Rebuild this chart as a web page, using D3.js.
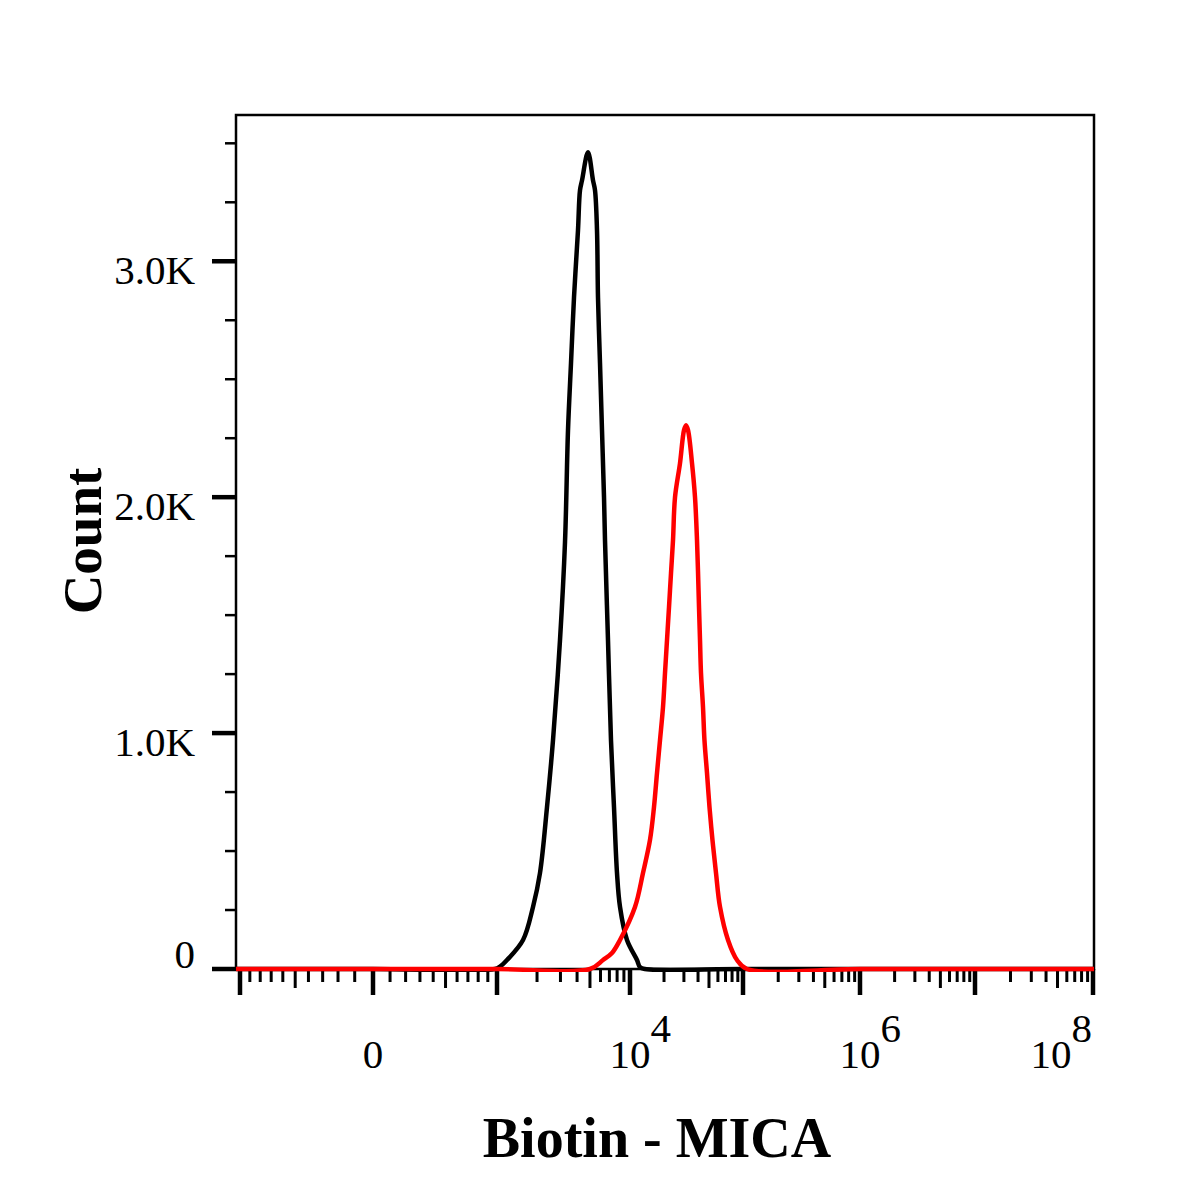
<!DOCTYPE html>
<html>
<head>
<meta charset="utf-8">
<script src="https://cdn.jsdelivr.net/npm/d3@7"></script>
<style>
  body { margin: 0; background: #fff; }
</style>
</head>
<body>
<script>
// Flow histogram: Biotin - MICA, isotype (black) vs stained (red)

// --- data (intensity, count) ---
const blackIntensity = [978, 1053, 1189, 1569, 1865, 2105, 2376, 2637, 2976, 3246, 3419, 3601, 3793,
  4064, 4208, 4357, 4833, 5270, 5456, 5648, 5746, 5949, 6158, 6376, 6486, 6832, 7195, 7580, 7985,
  8410, 9493, 11531, 12262, 13572];
const blackCount = [0, 10, 38, 123, 263, 407, 686, 970, 1394, 1810, 2284, 2568, 2847,
  3131, 3301, 3343, 3462, 3343, 3301, 3131, 2847, 2568, 2284, 2000, 1818, 1394, 970, 686, 407,
  263, 123, 38, 8, 0];

const redIntensity = [5002, 6266, 7321, 8410, 11071, 13032, 15031, 16300, 17338, 18433, 19590, 20405,
  21256, 22140, 23063, 24024, 25025, 27702, 30063, 31316, 32620, 35380, 37604, 39170, 40802, 41640,
  42495, 44260, 45600, 48020, 50520, 53680, 57690, 62590, 73680, 88490, 108200];
const redCount = [0, 38, 68, 123, 263, 407, 547, 686, 831, 970, 1110, 1254,
  1394, 1534, 1678, 1818, 2000, 2144, 2284, 2305, 2284, 2144, 2000, 1818, 1534, 1394,
  1254, 1110, 970, 831, 686, 547, 407, 263, 123, 38, 0];

// axis values
const yMajorTicks = [0, 1000, 2000, 3000];
const yMajorLabels = ["0", "1.0K", "2.0K", "3.0K"];
const yMinorStep = 250;
const yMax = 3620;
const xDecades = [-1000, 0, 1e3, 1e4, 1e5, 1e6, 1e7, 1e8];
const xLabelValues = [0, 1e4, 1e6, 1e8];
const xLabelExp = [null, "4", "6", "8"];

// Margin convention
const margin = {top: 115, right: 106, bottom: 231, left: 236};
const width = 1200 - margin.left - margin.right,
      height = 1200 - margin.top - margin.bottom;

// biexponential-ish display transform: linear-log near 0, log10 above 1000
function tf(v) {
  const a = Math.abs(v), s = Math.sign(v);
  if (a <= 1000) return s * 3 * Math.log2(1 + a / 1000);
  return s * Math.log10(a);
}
function tfInv(t) {
  const a = Math.abs(t), s = Math.sign(t);
  if (a <= 3) return s * 1000 * (Math.pow(2, a / 3) - 1);
  return s * Math.pow(10, a);
}

// where each decade sits along the axis (FlowJo compresses the low end)
const decadePos = [4, 137, 261, 394, 507, 624, 739, 857];
const xT = d3.scaleLinear()
             .domain(xDecades.map(tf))
             .range(decadePos);
const x = v => xT(tf(v));
const xMin = tfInv(xT.invert(0)),
      xMax = tfInv(xT.invert(width));

const y = d3.scaleLinear()
            .domain([0, yMax])
            .range([height, 0]);

const svg = d3.select("body").append("svg")
              .attr("width", width + margin.left + margin.right)
              .attr("height", height + margin.top + margin.bottom)
              .append("g")
              .attr("transform", `translate(${margin.left},${margin.top})`);

const labelFont = "'Liberation Serif', 'Times New Roman', serif";

// clip for the curves (a little slack at the bottom so the baseline shows)
svg.append("clipPath").attr("id", "plotclip")
   .append("rect").attr("x", 0).attr("y", 0).attr("width", width).attr("height", height + 3);

// --- y axis ticks ---
const yMinor = d3.range(yMinorStep, yMax, yMinorStep).filter(v => v % 1000 !== 0);
svg.append("g").selectAll("line.ymin")
   .data(yMinor).join("line")
   .attr("x1", -11).attr("x2", 0)
   .attr("y1", d => y(d)).attr("y2", d => y(d))
   .attr("stroke", "#000").attr("stroke-width", 2.5);

svg.append("g").selectAll("line.ymaj")
   .data(yMajorTicks).join("line")
   .attr("x1", -24).attr("x2", 0)
   .attr("y1", d => y(d)).attr("y2", d => y(d))
   .attr("stroke", "#000").attr("stroke-width", 4.5);

svg.append("g").selectAll("text")
   .data(yMajorTicks).join("text")
   .attr("x", -41)
   .attr("y", d => d === 0 ? y(d) - 1 : y(d) + 23)
   .attr("text-anchor", "end")
   .attr("font-family", labelFont)
   .attr("font-size", 41)
   .attr("fill", "#000")
   .text((d, i) => yMajorLabels[i]);

// --- x axis ticks ---
let xMinor = [];
for (let k = 1; k <= 9; k++) { xMinor.push(k * 100); xMinor.push(-k * 100); }
for (let n = 3; n <= 7; n++) {
  for (let k = 2; k <= 9; k++) xMinor.push(k * Math.pow(10, n));
}
svg.append("g").selectAll("line")
   .data(xMinor).join("line")
   .attr("x1", d => x(d)).attr("x2", d => x(d))
   .attr("y1", height)
   .attr("y2", d => height + (String(Math.abs(d))[0] === "5" ? 19 : 13))
   .attr("stroke", "#000").attr("stroke-width", 3);

svg.append("g").selectAll("line")
   .data(xDecades).join("line")
   .attr("x1", d => x(d)).attr("x2", d => x(d))
   .attr("y1", height).attr("y2", height + 26)
   .attr("stroke", "#000").attr("stroke-width", 4.5);

// x labels: "10" centred on the tick, exponent up and to the right
const xLabels = svg.append("g").selectAll("text")
   .data(xLabelValues).join("text")
   .attr("y", height + 99)
   .attr("font-family", labelFont)
   .attr("font-size", 41)
   .attr("fill", "#000");

xLabels.each(function(d, i) {
  const t = d3.select(this);
  if (xLabelExp[i] === null) {
    t.attr("x", x(d)).attr("text-anchor", "middle").text("0");
    return;
  }
  const base = t.append("tspan").text("10");
  t.append("tspan").attr("dy", -26).text(xLabelExp[i]);
  const wBase = base.node().getComputedTextLength();
  const wAll = this.getComputedTextLength();
  let left = x(d) - wBase / 2;
  if (left + wAll > width - 2) left = width - 2 - wAll;   // keep last label inside
  t.attr("x", left);
});

// frame (drawn before the curves so the baseline sits on top of it)
svg.append("rect")
   .attr("x", 0).attr("y", 0)
   .attr("width", width).attr("height", height)
   .attr("fill", "none")
   .attr("stroke", "#000")
   .attr("stroke-width", 2.5);

// --- histogram curves ---
const line = d3.line()
               .x(d => x(d[0]))
               .y(d => y(d[1]))
               .curve(d3.curveCatmullRom.alpha(0.5));

// pad each series with zero counts across the empty part of the axis,
// so the spline stays flat on the baseline instead of dipping under it
function series(xs, ys) {
  const lo = xs[0], hi = xs[xs.length - 1];
  const before = [xMin].concat(xDecades.filter(v => v < lo)).map(v => [v, 0]);
  const after = xDecades.filter(v => v > hi).concat([xMax]).map(v => [v, 0]);
  return before.concat(xs.map((v, i) => [v, ys[i]])).concat(after);
}

const curves = svg.append("g").attr("clip-path", "url(#plotclip)");
curves.append("path")
      .datum(series(blackIntensity, blackCount))
      .attr("d", line)
      .attr("fill", "none")
      .attr("stroke", "#000")
      .attr("stroke-width", 4.5)
      .attr("stroke-linejoin", "round");
curves.append("path")
      .datum(series(redIntensity, redCount))
      .attr("d", line)
      .attr("fill", "none")
      .attr("stroke", "#ff0000")
      .attr("stroke-width", 4.5)
      .attr("stroke-linejoin", "round");

// axis titles
svg.append("text")
   .attr("x", 657 - margin.left)
   .attr("y", height + 188)
   .attr("text-anchor", "middle")
   .attr("font-family", labelFont)
   .attr("font-weight", "bold")
   .attr("font-size", 56)
   .text("Biotin - MICA");

svg.append("text")
   .attr("transform", `translate(${101 - margin.left},${541 - margin.top}) rotate(-90)`)
   .attr("text-anchor", "middle")
   .attr("font-family", labelFont)
   .attr("font-weight", "bold")
   .attr("font-size", 55)
   .text("Count");
</script>
</body>
</html>
